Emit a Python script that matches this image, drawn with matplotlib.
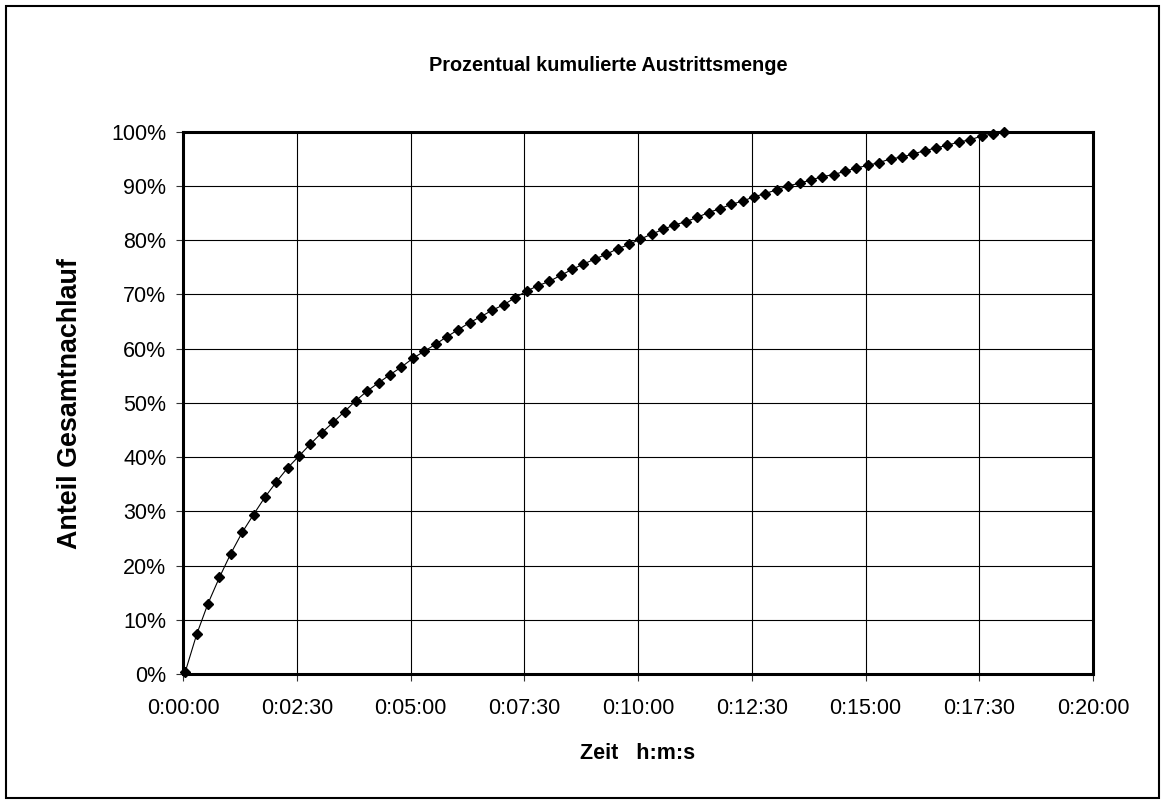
import matplotlib
matplotlib.use("Agg")
import matplotlib.pyplot as plt
from matplotlib.patches import Rectangle
from matplotlib.ticker import FuncFormatter, MultipleLocator

plt.rcParams["font.family"] = ["Liberation Sans", "DejaVu Sans"]

# time in seconds, cumulative share in percent
zeit_s = [3, 18, 33, 48, 63, 78, 93, 108, 123, 138,
          153, 168, 183, 198, 213, 228, 243, 258, 273, 288,
          303, 318, 333, 348, 363, 378, 393, 408, 423, 438,
          453, 468, 483, 498, 513, 528, 543, 558, 573, 588,
          603, 618, 633, 648, 663, 678, 693, 708, 723, 738,
          753, 768, 783, 798, 813, 828, 843, 858, 873, 888,
          903, 918, 933, 948, 963, 978, 993, 1008, 1023, 1038,
          1053, 1068, 1083]
anteil = [0.4, 7.3, 13.0, 17.8, 22.2, 26.1, 29.4, 32.6, 35.4, 38.0,
          40.2, 42.4, 44.5, 46.4, 48.4, 50.4, 52.2, 53.7, 55.2, 56.6,
          58.2, 59.5, 60.8, 62.2, 63.5, 64.8, 65.9, 67.1, 68.1, 69.4,
          70.6, 71.6, 72.4, 73.5, 74.6, 75.6, 76.5, 77.4, 78.4, 79.2,
          80.2, 81.1, 82.0, 82.8, 83.4, 84.2, 85.1, 85.8, 86.6, 87.2,
          88.0, 88.6, 89.3, 90.0, 90.5, 91.1, 91.7, 92.1, 92.7, 93.3,
          93.8, 94.3, 95.0, 95.3, 95.9, 96.5, 97.0, 97.5, 98.1, 98.5,
          99.2, 99.6, 100.0]

W, H = 1165, 802
fig = plt.figure(figsize=(W / 100, H / 100), dpi=100)
ax = fig.add_axes([183 / W, 1 - 674 / H, 910 / W, 542.3 / H])

ax.plot(zeit_s, anteil, color="black", lw=0.8, marker="D", ms=5.5,
        mfc="black", mec="black", zorder=3, clip_on=False)

ax.set_xlim(0, 1200)
ax.set_ylim(0, 100)
ax.xaxis.set_major_locator(MultipleLocator(150))
ax.yaxis.set_major_locator(MultipleLocator(10))


def hms(v, pos):
    v = int(round(v))
    return "%d:%02d:%02d" % (v // 3600, (v % 3600) // 60, v % 60)


ax.xaxis.set_major_formatter(FuncFormatter(hms))
ax.yaxis.set_major_formatter(FuncFormatter(lambda v, p: "%d%%" % v))

ax.grid(True, color="black", lw=0.8)
ax.set_axisbelow(True)
for s in ax.spines.values():
    s.set_linewidth(2.2)
    s.set_color("black")
ax.tick_params(direction="out", length=5, width=0.8, color="#333333",
               labelsize=15.5)
ax.tick_params(axis="x", pad=12.5)
ax.tick_params(axis="y", pad=7)

fig.text(608 / W, 1 - 71 / H, "Prozentual kumulierte Austrittsmenge",
         ha="center", va="baseline", fontsize=14.3, fontweight="bold")
fig.text(638 / W, 1 - 759 / H, "Zeit   h:m:s",
         ha="center", va="baseline", fontsize=15.5, fontweight="bold")
fig.text(70 / W, 1 - 403.5 / H, "Anteil Gesamtnachlauf", rotation=90,
         ha="center", va="center", fontsize=19.4, fontweight="bold")

fig.patches.append(Rectangle((6 / W, 4 / H), 1153 / W, 792 / H,
                             transform=fig.transFigure, fill=False,
                             ec="black", lw=1.5))

fig.savefig("out.png", dpi=100, facecolor="white")
